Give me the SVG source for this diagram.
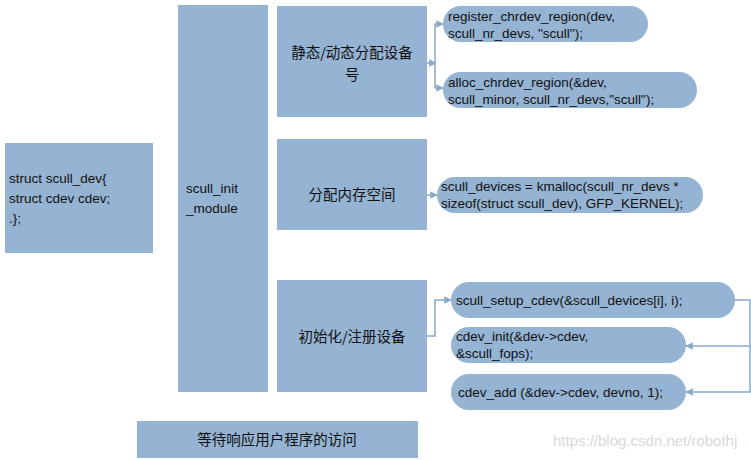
<svg xmlns="http://www.w3.org/2000/svg" width="751" height="460" viewBox="0 0 751 460">
<style>
.b{fill:#95b3d2}
text{font-family:"Liberation Sans","Noto Sans CJK SC",sans-serif;font-size:13.5px;fill:#111}
.z{font-family:"Noto Sans CJK SC",sans-serif;font-size:14.5px}
.c{fill:none;stroke:#8aa8c8;stroke-width:1.5}
</style>
<defs><marker id="a" viewBox="0 0 10 10" refX="9" refY="5" markerWidth="5" markerHeight="5" orient="auto"><path d="M0,0L10,5L0,10z" fill="#8aa8c8"/></marker></defs>
<rect width="751" height="460" fill="#fff"/>
<g id="scull_dev"><rect class="b" x="5" y="143" width="148" height="110"/><text x="9" y="183">struct scull_dev{</text><text x="9" y="203">struct cdev cdev;</text><text x="9" y="223">.};</text></g>
<g id="init_module"><rect class="b" x="178" y="5" width="90" height="387"/><text x="212" y="193" text-anchor="middle">scull_init</text><text x="212" y="213" text-anchor="middle">_module</text></g>
<g id="devno"><rect class="b" x="277" y="6" width="150" height="111"/><text class="z" x="352" y="58" text-anchor="middle">静态/动态分配设备</text><text class="z" x="352" y="80" text-anchor="middle">号</text></g>
<g id="mem"><rect class="b" x="277" y="139" width="150" height="91"/><text class="z" x="352" y="200" text-anchor="middle">分配内存空间</text></g>
<g id="reg"><rect class="b" x="277" y="280" width="150" height="112"/><text class="z" x="352" y="342" text-anchor="middle">初始化/注册设备</text></g>
<g id="wait"><rect class="b" x="137" y="421" width="281" height="37"/><text class="z" x="277" y="445" text-anchor="middle">等待响应用户程序的访问</text></g>
<g id="p1"><rect class="b" x="443" y="6" width="205" height="36" rx="18"/><text x="448" y="21">register_chrdev_region(dev,</text><text x="448" y="38">scull_nr_devs, "scull");</text></g>
<g id="p2"><rect class="b" x="443" y="72" width="254" height="36" rx="18"/><text x="448" y="87">alloc_chrdev_region(&amp;dev,</text><text x="448" y="104">scull_minor, scull_nr_devs,"scull");</text></g>
<g id="p3"><rect class="b" x="437" y="177" width="266" height="36" rx="18"/><text x="441" y="191">scull_devices = kmalloc(scull_nr_devs *</text><text x="441" y="208">sizeof(struct scull_dev), GFP_KERNEL);</text></g>
<g id="p4"><rect class="b" x="451" y="282" width="284" height="36" rx="18"/><text x="456" y="305">scull_setup_cdev(&amp;scull_devices[i], i);</text></g>
<g id="p5"><rect class="b" x="451" y="327" width="235" height="36" rx="18"/><text x="456" y="341">cdev_init(&amp;dev-&gt;cdev,</text><text x="456" y="358">&amp;scull_fops);</text></g>
<g id="p6"><rect class="b" x="451" y="374" width="235" height="36" rx="18"/><text x="458" y="397">cdev_add (&amp;dev-&gt;cdev, devno, 1);</text></g>
<g id="connectors">
<path class="c" d="M427,63H436" marker-end="url(#a)"/>
<path class="c" d="M435,88V24H443" marker-end="url(#a)"/>
<path class="c" d="M435,88H443" marker-end="url(#a)"/>
<path class="c" d="M427,195H437" marker-end="url(#a)"/>
<path class="c" d="M427,336H435V300H451" marker-end="url(#a)"/>
<path class="c" d="M735,300H750V392H686" marker-end="url(#a)"/>
<path class="c" d="M750,346H686" marker-end="url(#a)"/>
</g>
<text x="553" y="446" style="font-family:'Liberation Sans',sans-serif;font-size:15px;fill:#d8d8d8">https://blog.csdn.net/robothj</text>
</svg>
